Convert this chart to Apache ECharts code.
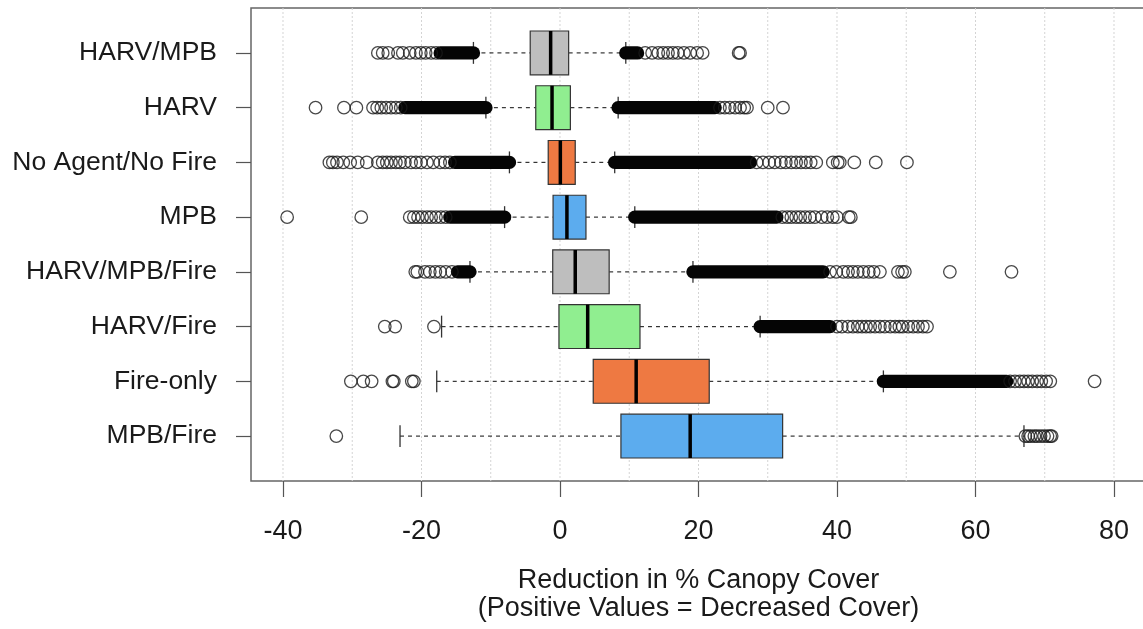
<!DOCTYPE html>
<html>
<head>
<meta charset="utf-8">
<script src="https://cdn.jsdelivr.net/npm/echarts@6/dist/echarts.min.js"></script>
<style>
html,body{margin:0;padding:0;background:#fff;overflow:hidden;}
#chart{width:1170px;height:629px;}
</style>
</head>
<body>
<div id="chart"></div>
<script>
// ---- data ----
const categories = ['HARV/MPB','HARV','No Agent/No Fire','MPB','HARV/MPB/Fire','HARV/Fire','Fire-only','MPB/Fire'];
const lowerWhisker = [-12.5, -10.7, -7.3, -8.0, -13.0, -17.1, -17.8, -23.1];
const q1Values     = [-4.3, -3.5, -1.7, -1.0, -1.05, -0.15, 4.8, 8.8];
const medianValues = [-1.35, -1.15, 0.05, 1.0, 2.2, 4.0, 11.0, 18.8];
const q3Values     = [1.25, 1.5, 2.2, 3.75, 7.1, 11.55, 21.55, 32.15];
const upperWhisker = [9.5, 8.4, 7.9, 10.8, 19.2, 28.9, 46.7, 67.0];

const xTickValues = [-40, -20, 0, 20, 40, 60, 80];
const gridValues = [-40, -30, -20, -10, 0, 10, 20, 30, 40, 50, 60, 70, 80];

// individually visible outlier circles, per group
const outHarvMpb = [-26.3,-25.6,-24.8,-23.4,-22.7,-21.7,-20.8,-20.1,-19.4,-18.6,-17.9,
  12.3,13.3,14.2,14.9,15.6,16.3,17.0,17.9,18.8,19.8,20.6,25.8,26.0];
const outHarv = [-35.3,-31.2,-29.4,-27.0,-26.4,-25.8,-25.1,-24.4,-23.7,-23.0,
  23.1,23.8,24.5,25.3,26.0,26.6,27.0,30.0,32.2];
const outNoAgent = [-33.3,-32.8,-32.2,-31.3,-30.3,-29.2,-27.9,-26.3,-25.6,-25.0,-24.4,-23.7,-23.1,-22.4,-21.5,-20.8,-20.1,-19.2,-18.3,-17.3,-16.6,-15.9,
  28.4,29.3,30.2,31.0,31.9,32.6,33.4,34.1,34.8,35.5,36.2,37.0,39.4,40.1,40.4,42.5,45.6,50.1];
const outMpb = [-39.4,-28.7,-21.7,-21.1,-20.5,-19.9,-19.2,-18.6,-17.9,-17.2,-16.5,
  32.1,32.8,33.4,34.1,34.7,35.4,36.1,36.8,37.8,38.6,39.4,40.0,41.7,42.0];
const outHarvMpbFire = [-20.9,-20.6,-19.5,-18.8,-18.0,-17.3,-16.5,-15.6,
  39.0,39.9,40.9,41.6,42.3,43.0,43.8,44.6,45.3,46.2,48.8,49.4,49.8,56.3,65.2];
const outHarvFire = [-25.3,-23.8,-18.2,
  40.0,40.7,41.6,42.3,43.0,43.6,44.2,44.8,45.5,46.2,46.9,47.7,48.4,49.0,49.5,50.3,51.0,51.7,52.4,53.0];
const outFireOnly = [-30.2,-28.4,-27.2,-24.2,-24.0,-21.4,-21.1,
  65.0,65.7,66.4,67.0,67.6,68.2,68.9,69.5,70.2,70.8,77.2];
const outMpbFire = [-32.3, 67.2,67.6,68.0,68.5,68.9,69.4,69.9,70.4,70.8,71.0];

// stretches where outlier circles overlap into a solid black run: [group, from, to]
const denseRuns = [
  [1, -17.3, -12.5], [1, 9.5, 11.2],
  [2, -22.4, -10.7], [2, 8.4, 22.4],
  [3, -15.2, -7.3], [3, 7.9, 27.5],
  [4, -15.9, -8.0], [4, 10.8, 31.3],
  [5, -14.8, -13.0], [5, 19.2, 38.0],
  [6, 28.9, 39.0],
  [7, 46.7, 64.5]
];

// ---- build ----
const outlierLists = [outHarvMpb,outHarv,outNoAgent,outMpb,outHarvMpbFire,outHarvFire,outFireOnly,outMpbFire];
const boxColors = ['#BEBEBE','#90EE90','#EE7942','#5CACEE','#BEBEBE','#90EE90','#EE7942','#5CACEE'];

const boxData = categories.map((c,i)=>[i+1, lowerWhisker[i], q1Values[i], medianValues[i], q3Values[i], upperWhisker[i]]);
const outlierData = [];
outlierLists.forEach((list,i)=>list.forEach(v=>outlierData.push([v, i+1])));

const FONT = '"Liberation Sans", Arial, Helvetica, sans-serif';
const chart = echarts.init(document.getElementById('chart'), null, {renderer:'canvas'});

const PX_PER_UNIT = 6.925;
const GRID_W = 895;
const X_MIN = -44.62;

// dashed segment pieces (pixel-space dash pattern, like R's lty = 2)
function dashPieces(x0, x1, y, style) {
  const out = [];
  const on = 4, off = 4;
  for (let x = x0; x < x1; x += on + off) {
    const xe = Math.min(x + on, x1);
    out.push({type: 'line', shape: {x1: x, y1: y, x2: xe, y2: y}, style: style});
  }
  return out;
}

const option = {
  animation: false,
  backgroundColor: '#fff',
  grid: {
    show: true, left: 251, top: 8, width: GRID_W, height: 473,
    borderColor: '#666', borderWidth: 1.5, backgroundColor: 'transparent', containLabel: false
  },
  xAxis: {
    type: 'value', min: X_MIN, max: X_MIN + GRID_W / PX_PER_UNIT,
    position: 'bottom',
    axisLine: {show: false, onZero: false},
    splitLine: {show: false},
    axisTick: {show: true, customValues: xTickValues, length: 16, lineStyle: {color: '#555', width: 1.2}},
    axisLabel: {customValues: xTickValues, margin: 37, fontSize: 27, color: '#1a1a1a', fontFamily: FONT},
    name: 'Reduction in % Canopy Cover\n(Positive Values = Decreased Cover)',
    nameLocation: 'middle', nameGap: 86,
    nameTextStyle: {fontSize: 27, lineHeight: 28, color: '#1a1a1a', fontFamily: FONT, verticalAlign: 'top'}
  },
  yAxis: {
    type: 'value', inverse: true, min: 0.18, max: 8.82,
    position: 'left',
    axisLine: {show: false, onZero: false},
    splitLine: {show: false},
    axisTick: {show: true, customValues: [1,2,3,4,5,6,7,8], length: 15, lineStyle: {color: '#555', width: 1.2}},
    axisLabel: {customValues: [1,2,3,4,5,6,7,8], margin: 34, fontSize: 26.5, color: '#1a1a1a', fontFamily: FONT,
      formatter: v => categories[Math.round(v)-1] || ''}
  },
  series: [
    {
      type: 'custom', silent: true, z: 1,
      data: gridValues.map(v=>[v, 1]),
      encode: {x: 0, y: 1},
      renderItem: (params, api) => {
        const v = api.value(0);
        const a = api.coord([v, 0.18]);
        const b = api.coord([v, 8.82]);
        return {type: 'line', shape: {x1: a[0], y1: a[1], x2: b[0], y2: b[1]},
          style: {stroke: '#d4d4d4', lineWidth: 1, lineDash: [2, 2]}};
      }
    },
    {
      type: 'custom', silent: true, z: 3,
      data: boxData,
      encode: {x: [1,2,3,4,5], y: 0},
      renderItem: (params, api) => {
        const y = api.value(0);
        const lw = api.coord([api.value(1), y]);
        const p1 = api.coord([api.value(2), y]);
        const md = api.coord([api.value(3), y]);
        const p3 = api.coord([api.value(4), y]);
        const hw = api.coord([api.value(5), y]);
        const half = api.size([0, 0.4])[1];
        const cap = api.size([0, 0.2])[1];
        const cy = lw[1];
        const col = boxColors[params.dataIndex];
        const dashStyle = {stroke: '#333', lineWidth: 1.2};
        const solid = {stroke: '#333', lineWidth: 1.3};
        const children = []
          .concat(dashPieces(lw[0], p1[0], cy, dashStyle))
          .concat(dashPieces(p3[0], hw[0], cy, dashStyle));
        children.push(
          {type: 'line', shape: {x1: lw[0], y1: cy-cap, x2: lw[0], y2: cy+cap}, style: solid},
          {type: 'line', shape: {x1: hw[0], y1: cy-cap, x2: hw[0], y2: cy+cap}, style: solid},
          {type: 'rect', shape: {x: p1[0], y: cy-half, width: p3[0]-p1[0], height: 2*half},
            style: {fill: col, stroke: '#333', lineWidth: 1.2}},
          {type: 'line', shape: {x1: md[0], y1: cy-half, x2: md[0], y2: cy+half},
            style: {stroke: '#000', lineWidth: 3.5}}
        );
        return {type: 'group', children: children};
      }
    },
    {
      type: 'custom', silent: true, z: 4,
      data: denseRuns,
      encode: {x: [1,2], y: 0},
      renderItem: (params, api) => {
        const y = api.value(0);
        const a = api.coord([api.value(1), y]);
        const b = api.coord([api.value(2), y]);
        const h = 13.4;
        return {type: 'rect', shape: {x: a[0]-h/2, y: a[1]-h/2, width: b[0]-a[0]+h, height: h, r: h/2},
          style: {fill: '#050505'}};
      }
    },
    {
      type: 'scatter', silent: true, z: 5,
      data: outlierData,
      symbol: 'circle', symbolSize: 12.5,
      itemStyle: {color: 'rgba(255,255,255,0)', borderColor: '#1a1a1a', borderWidth: 1.3}
    }
  ]
};
chart.setOption(option);
</script>
</body>
</html>
